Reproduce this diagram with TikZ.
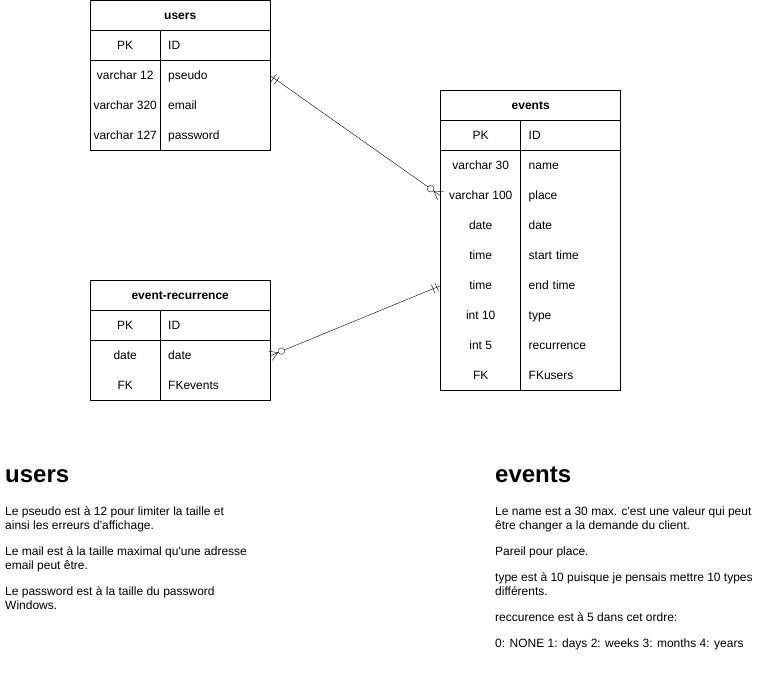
\documentclass[tikz,border=0pt]{standalone}
\usepackage{fontspec}
\newfontfamily\diofont{Liberation Sans}
\usetikzlibrary{decorations.markings}
\newcommand\tabfont{\diofont\fontsize{12}{14}\selectfont}
\tikzset{
  tabhead/.style={minimum width=#1, minimum height=30pt, inner sep=0pt,
    text height=10pt, text depth=1.5pt, anchor=north west, font=\tabfont\bfseries},
  keycell/.style={minimum width=#1, minimum height=30pt, inner sep=0pt,
    text height=10pt, text depth=1.5pt, anchor=north west, font=\tabfont},
  fieldcell/.style={text width=#1, inner xsep=8pt, inner ysep=0pt, text height=10pt,
    text depth=1.5pt, minimum height=30pt, align=left, anchor=north west, font=\tabfont},
  % ER ends
  onestart/.style={postaction={decorate, decoration={markings,
    mark=at position 4pt with {\draw (0,-4.5pt) -- (0,4.5pt);},
    mark=at position 8pt with {\draw (0,-4.5pt) -- (0,4.5pt);}}}},
  oneend/.style={postaction={decorate, decoration={markings,
    mark=at position -8pt with {\draw (0,-4.5pt) -- (0,4.5pt);},
    mark=at position -4pt with {\draw (0,-4.5pt) -- (0,4.5pt);}}}},
  manystart/.style={postaction={decorate, decoration={markings,
    mark=at position 8pt with {\draw (0,0) -- (-8pt,5pt) (0,0) -- (-8pt,-5pt);},
    mark=at position 12pt with {\draw[fill=white] (0,0) circle (3.3pt);}}}},
  manyend/.style={postaction={decorate, decoration={markings,
    mark=at position -12pt with {\draw[fill=white] (0,0) circle (3.3pt);},
    mark=at position -8pt with {\draw (0,0) -- (8pt,5pt) (0,0) -- (8pt,-5pt);}}}},
  notetitle/.style={anchor=base west, inner sep=0pt, font=\diofont\bfseries\fontsize{24}{28}\selectfont},
  notetext/.style={anchor=north west, inner sep=0pt, align=left, font=\tabfont}
}
\begin{document}
\begin{tikzpicture}[x=1pt, y=-1pt]
  \useasboundingbox (0,0) rectangle (762,681);
  % users table
  \node[tabhead=180pt] (users) at (90,0.5) {users};
  \node[keycell=70pt] (users-kpk) at (90,30.5) {PK};
  \node[fieldcell=94pt] (users-fpk) at (160,30.5) {ID};
  \foreach \k/\f [count=\i] in {varchar 12/pseudo, varchar 320/email, varchar 127/password} {
    \node[keycell=70pt] (users-k\i) at (90,30.5+30*\i) {\k};
    \node[fieldcell=94pt] (users-f\i) at (160,30.5+30*\i) {\f};
  }
  \draw (90,0.5) rectangle (270,150.5);
  \draw (90,30.5) -- (270,30.5) (90,60.5) -- (270,60.5);
  \draw (160,30.5) -- (160,150.5);
  % events table
  \node[tabhead=180pt] (events) at (440.5,90.5) {events};
  \node[keycell=80pt] (events-kpk) at (440.5,120.5) {PK};
  \node[fieldcell=84pt] (events-fpk) at (520.5,120.5) {ID};
  \foreach \k/\f [count=\i] in {varchar 30/name, varchar 100/place, date/date, time/start time,
      time/end time, int 10/type, int 5/recurrence, FK/FKusers} {
    \node[keycell=80pt] (events-k\i) at (440.5,120.5+30*\i) {\k};
    \node[fieldcell=84pt] (events-f\i) at (520.5,120.5+30*\i) {\f};
  }
  \draw (440.5,90.5) rectangle (620.5,390.5);
  \draw (440.5,120.5) -- (620.5,120.5) (440.5,150.5) -- (620.5,150.5);
  \draw (520.5,120.5) -- (520.5,390.5);
  % event-recurrence table
  \node[tabhead=180pt] (recur) at (90,280.5) {event-recurrence};
  \node[keycell=70pt] (recur-kpk) at (90,310.5) {PK};
  \node[fieldcell=94pt] (recur-fpk) at (160,310.5) {ID};
  \foreach \k/\f [count=\i] in {date/date, FK/FKevents} {
    \node[keycell=70pt] (recur-k\i) at (90,310.5+30*\i) {\k};
    \node[fieldcell=94pt] (recur-f\i) at (160,310.5+30*\i) {\f};
  }
  \draw (90,280.5) rectangle (270,400.5);
  \draw (90,310.5) -- (270,310.5) (90,340.5) -- (270,340.5);
  \draw (160,310.5) -- (160,400.5);
  % relations
  \draw[onestart, manyend] (users-f1.east) -- (events-k2.west);
  \draw[manystart, oneend] (recur-f1.east) -- (events-k5.west);
  % notes
  \node[notetitle] (users-title) at (5,482) {users};
  \node[notetext] (users-note) at (5,506.5) {Le pseudo est à 12 pour limiter la taille et\\
    ainsi les erreurs d'affichage.\\[12pt]
    Le mail est à la taille maximal qu'une adresse\\
    email peut être.\\[12pt]
    Le password est à la taille du password\\
    Windows.};
  \node[notetitle] (events-title) at (495,482) {events};
  \node[notetext] (events-note) at (495,506.5) {Le name est a 30 max. c'est une valeur qui peut\\
    être changer a la demande du client.\\[12pt]
    Pareil pour place.\\[12pt]
    type est à 10 puisque je pensais mettre 10 types\\
    différents.\\[12pt]
    reccurence est à 5 dans cet ordre:\\[12pt]
    0: NONE 1: days 2: weeks 3: months 4: years};
\end{tikzpicture}
\end{document}
